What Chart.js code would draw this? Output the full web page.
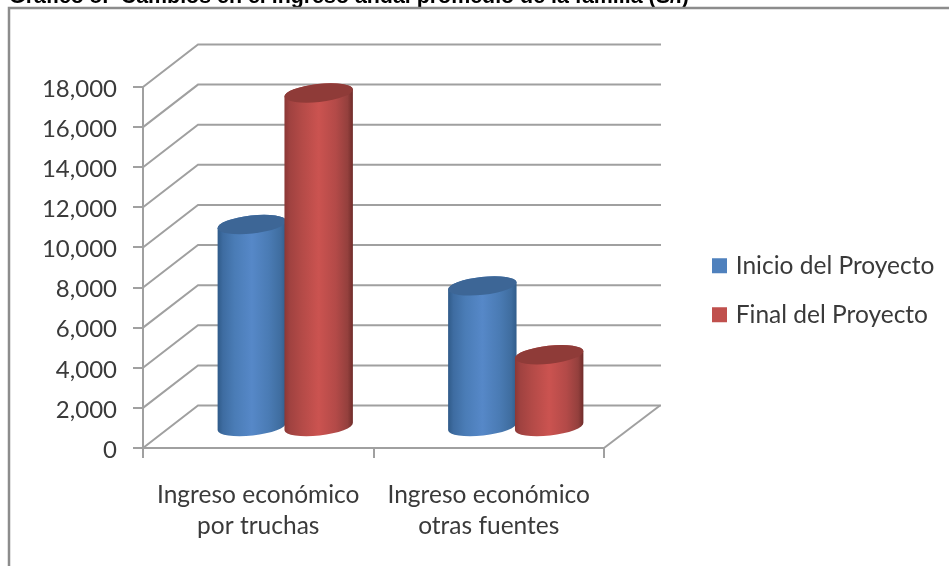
<!DOCTYPE html>
<html>
<head>
<meta charset="utf-8">
<style>
  html, body { margin: 0; padding: 0; background: #fff; }
  canvas { display: block; filter: blur(0.4px); }
</style>
<script src="https://cdn.jsdelivr.net/npm/chart.js@4"></script>
</head>
<body>
<canvas id="chart" width="949" height="566"></canvas>
<script>
const categories = [['Ingreso económico', 'por truchas'], ['Ingreso económico', 'otras fuentes']];
const inicio = [10120, 7060];
const final = [16680, 3630];
const seriesNames = ['Inicio del Proyecto', 'Final del Proyecto'];
const legendColors = ['#4f81bd', '#c0504d'];
const titleText = 'Gráfico 8:  Cambios en el ingreso anual promedio de la familia (S/.)';

const GRID = '#a0a0a0';
const TEXT = '#3a3a3a';
const DEPTH_X = 55;
const DEPTH_Y = 42.5;
const BAR_DX = 27;
const BAR_DY = 20.5;

// [offset, colour] along the cylinder side, plus lid colour
const cylinderStyles = [
  {
    stops: [[0, '#2f5a88'], [0.08, '#3e6ca1'], [0.25, '#4a7cb6'], [0.5, '#5688c8'], [0.75, '#4a7bb4'], [0.92, '#3f6d9f'], [1, '#315c8a']],
    lid: '#3d6696'
  },
  {
    stops: [[0, '#8a3735'], [0.08, '#a04240'], [0.25, '#b34a47'], [0.5, '#cb5350'], [0.75, '#b34a48'], [0.92, '#94403d'], [1, '#6e2b29']],
    lid: '#8f3b38'
  }
];

function cylinder(ctx, x, top, base, rx, style) {
  const ry = 9, tilt = -0.11;
  const g = ctx.createLinearGradient(x - rx, 0, x + rx, 0);
  style.stops.forEach(s => g.addColorStop(s[0], s[1]));
  ctx.beginPath();
  ctx.ellipse(x, base, rx, ry, tilt, 0, Math.PI);
  ctx.ellipse(x, top, rx, ry, tilt, Math.PI, 2 * Math.PI);
  ctx.closePath();
  ctx.fillStyle = g;
  ctx.fill();
  ctx.beginPath();
  ctx.ellipse(x, top, rx, ry, tilt, 0, 2 * Math.PI);
  ctx.fillStyle = style.lid;
  ctx.fill();
}

const walls3d = {
  id: 'walls3d',
  beforeInit(chart) {
    // legend keeps the whole right side free, it gets moved in afterLayout
    const fit = chart.legend.fit;
    chart.legend.fit = function () {
      fit.call(chart.legend);
      this.width = 345;
    };
  },
  afterLayout(chart) {
    const l = chart.legend;
    l.left = 691;
    l.right = 949;
    l.top = 229;
    l.bottom = 566;
  },
  beforeDatasetsDraw(chart) {
    const { ctx, scales: { x, y } } = chart;
    const left = x.left, right = x.right;
    ctx.save();
    // picture frame
    ctx.strokeStyle = '#8c8c8c';
    ctx.lineWidth = 2.5;
    ctx.beginPath();
    ctx.moveTo(9, 566);
    ctx.lineTo(9, 8);
    ctx.lineTo(949, 8);
    ctx.stroke();
    // back wall and side wall lines
    ctx.strokeStyle = GRID;
    ctx.lineWidth = 2;
    y.ticks.forEach((t, i) => {
      const py = y.getPixelForTick(i);
      ctx.beginPath();
      ctx.moveTo(left, py);
      ctx.lineTo(left + DEPTH_X, py - DEPTH_Y);
      ctx.lineTo(right + DEPTH_X + 2, py - DEPTH_Y);
      ctx.stroke();
    });
    ctx.beginPath();
    ctx.moveTo(right, y.bottom);
    ctx.lineTo(right + DEPTH_X + 1, y.bottom - DEPTH_Y);
    ctx.stroke();
    ctx.restore();
  },
  afterDatasetsDraw(chart) {
    const { ctx } = chart;
    ctx.save();
    categories.forEach((c, j) => {
      chart.data.datasets.forEach((ds, i) => {
        const bar = chart.getDatasetMeta(i).data[j];
        cylinder(ctx, bar.x + BAR_DX, bar.y - BAR_DY, bar.base - BAR_DY, bar.width / 2 + 1, cylinderStyles[i]);
      });
    });
    ctx.restore();
  }
};

new Chart(document.getElementById('chart'), {
  type: 'bar',
  data: {
    labels: categories,
    datasets: [
      { label: seriesNames[0], data: inicio, backgroundColor: 'transparent' },
      { label: seriesNames[1], data: final, backgroundColor: 'transparent' }
    ]
  },
  plugins: [walls3d],
  options: {
    responsive: false,
    animation: false,
    categoryPercentage: 0.58,
    barPercentage: 1,
    layout: { padding: { left: 9, top: 0, right: 0, bottom: 0 } },
    plugins: {
      tooltip: { enabled: false },
      title: {
        display: true,
        text: titleText,
        align: 'start',
        color: '#000',
        font: { family: '"Liberation Sans"', size: 21.4, weight: 'bold' },
        padding: { top: -16, bottom: 77.3 }
      },
      legend: {
        position: 'right',
        align: 'start',
        labels: {
          color: TEXT,
          font: { family: 'Lato', size: 24.5 },
          boxWidth: 8,
          boxHeight: 8,
          padding: 24.5,
          generateLabels: () => seriesNames.map((name, i) => ({
            text: name,
            fillStyle: legendColors[i],
            strokeStyle: legendColors[i],
            lineWidth: 7,
            fontColor: TEXT,
            datasetIndex: i
          }))
        }
      }
    },
    scales: {
      x: {
        afterFit(s) { s.height = 118; },
        grid: { drawOnChartArea: false, color: GRID, lineWidth: 2, tickLength: 10 },
        border: { color: GRID, width: 2 },
        ticks: {
          color: TEXT,
          padding: 21,
          maxRotation: 0,
          autoSkip: false,
          font: { family: 'Lato', size: 24.5, lineHeight: 1.28 }
        }
      },
      y: {
        min: 0,
        max: 18000,
        afterFit(s) { s.width = 134; },
        grid: { drawOnChartArea: false, color: GRID, lineWidth: 2, tickLength: 10 },
        border: { color: GRID, width: 2 },
        ticks: {
          stepSize: 2000,
          color: TEXT,
          padding: 16,
          labelOffset: 2,
          font: { family: 'Lato', size: 24 },
          callback: v => v.toLocaleString('en-US')
        }
      }
    }
  }
});
</script>
</body>
</html>
